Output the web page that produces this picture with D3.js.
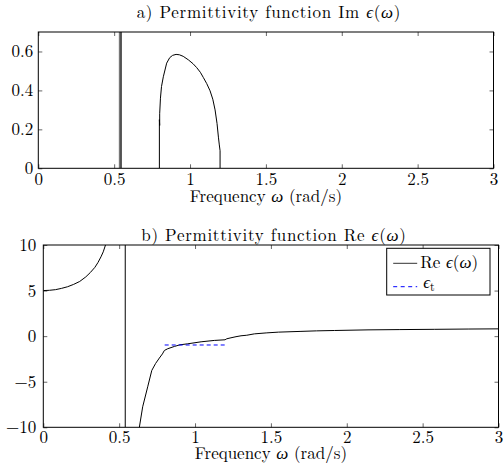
<!DOCTYPE html>
<html lang="en">
<head>
<meta charset="utf-8">
<title>Permittivity function</title>
<script src="https://d3js.org/d3.v7.min.js"></script>
<style>
  body { margin: 0; background: #fff; }
</style>
</head>
<body>
<div id="mainDiv"></div>
<script>
const width = 503
const height = 465
const fontName = 'Latin Modern Roman'
const fontSize = '17px'

// x ticks shared by both panels
const xTicks = [0, 0.5, 1, 1.5, 2, 2.5, 3]

// a) Im eps(omega)
const imYTicks = [0, 0.2, 0.4, 0.6]
const deltaOmega = [0.535, 0.545]   // resonance spike (drawn as a thick vertical line)
const imOmega = [0.798, 0.798, 0.800, 0.800, 0.805, 0.812, 0.824, 0.846, 0.866, 0.885, 0.908, 0.930, 0.955, 0.989, 1.020, 1.044, 1.068, 1.088, 1.110, 1.132, 1.150, 1.165, 1.178, 1.187, 1.193, 1.198, 1.198]
const imValues = [0.0, 0.25, 0.22, 0.28, 0.36, 0.42, 0.47, 0.54, 0.568, 0.580, 0.585, 0.583, 0.575, 0.557, 0.537, 0.517, 0.493, 0.466, 0.435, 0.398, 0.355, 0.300, 0.230, 0.160, 0.120, 0.090, 0.0]

// b) Re eps(omega)
const reYTicks = [-10, -5, 0, 5, 10]
const reOmegaLow = [0, 0.04, 0.08, 0.12, 0.16, 0.2, 0.24, 0.28, 0.31, 0.34, 0.36, 0.38, 0.395, 0.41, 0.42]
const reValuesLow = [5.0, 5.03, 5.1, 5.24, 5.42, 5.68, 6.0, 6.5, 6.98, 7.55, 8.07, 8.7, 9.25, 10.0, 10.6]
const reOmegaHigh = [0.62, 0.633, 0.655, 0.688, 0.715, 0.74, 0.765, 0.785, 0.798, 0.82, 0.864, 0.901, 0.952, 1.04, 1.127, 1.198, 1.209, 1.237, 1.27, 1.303, 1.341, 1.391, 1.473, 1.55, 1.692, 1.8, 1.92, 2.14, 2.35, 2.58, 2.8, 3.0]
const reValuesHigh = [-11, -10.0, -7.75, -5.56, -3.76, -3.0, -2.4, -1.95, -1.57, -1.38, -1.13, -0.95, -0.84, -0.62, -0.47, -0.40, -0.29, -0.18, -0.06, 0.04, 0.10, 0.25, 0.36, 0.44, 0.52, 0.58, 0.62, 0.69, 0.72, 0.75, 0.78, 0.8]
const poleOmega = 0.54
const epsTOmega = [0.8, 1.2]
const epsTValues = [-0.97, -0.97]

const svg = d3.select('#mainDiv').append('svg')
    .attr('width', width)
    .attr('height', height)

function addText(sel, x, y, parts, anchor) {
    const t = sel.append('text')
        .attr('x', x).attr('y', y)
        .attr('text-anchor', anchor || 'start')
        .style('font-family', fontName)
        .style('font-size', fontSize)
        .style('fill', '#000')
    parts.forEach(p => {
        const s = t.append('tspan').text(p.t)
        if (p.i) s.style('font-style', 'italic')
        if (p.sub) s.attr('dy', 3).style('font-size', '12px')
    })
    return t
}

function makePanel(box, yDomain, yTicks, pads, title, titleY, labelY) {
    const xScale = d3.scaleLinear().domain([0, 3]).range([box.left, box.right])
    const yScale = d3.scaleLinear().domain(yDomain).range([box.bottom, box.top])
    const tick = 4

    const axes = svg.append('g')
    axes.append('g')
        .attr('transform', `translate(0,${box.bottom})`)
        .call(d3.axisBottom(xScale).tickValues(xTicks).tickFormat(d3.format('')).tickSize(-tick).tickPadding(pads.x))
    axes.append('g')
        .attr('transform', `translate(0,${box.top})`)
        .call(d3.axisTop(xScale).tickValues(xTicks).tickFormat('').tickSize(-tick))
    axes.append('g')
        .attr('transform', `translate(${box.left},0)`)
        .call(d3.axisLeft(yScale).tickValues(yTicks).tickFormat(d3.format('')).tickSize(-tick).tickPadding(pads.y))
    axes.append('g')
        .attr('transform', `translate(${box.right},0)`)
        .call(d3.axisRight(yScale).tickValues(yTicks).tickFormat('').tickSize(-tick))
    axes.selectAll('.domain').remove()
    axes.selectAll('g').attr('font-family', fontName).attr('font-size', 17)
    axes.selectAll('.tick line').attr('stroke', '#666')
    axes.selectAll('.tick text')
        .style('font-family', fontName)
        .style('font-size', fontSize)
        .attr('fill', '#000')

    addText(svg, (box.left + box.right) / 2 + 3, titleY,
        [{ t: title }, { t: 'ϵ', i: true }, { t: '(' }, { t: 'ω', i: true }, { t: ')' }], 'middle')
        .style('letter-spacing', '0.7px')
    addText(svg, (box.left + box.right) / 2, labelY,
        [{ t: 'Frequency ' }, { t: 'ω', i: true }, { t: ' (rad/s)' }], 'middle')

    const clipId = 'clip' + titleY
    svg.append('clipPath').attr('id', clipId)
        .append('rect')
        .attr('x', box.left).attr('y', box.top)
        .attr('width', box.right - box.left).attr('height', box.bottom - box.top)

    const plot = svg.append('g').attr('clip-path', `url(#${clipId})`)
    return { xScale, yScale, plot, box }
}

function frame(p) {
    svg.append('rect')
        .attr('x', p.box.left).attr('y', p.box.top)
        .attr('width', p.box.right - p.box.left).attr('height', p.box.bottom - p.box.top)
        .attr('fill', 'none').attr('stroke', '#000').attr('stroke-width', 1)
}

// ---------- panel a ----------
const a = makePanel({ left: 38.3, right: 493.5, top: 32, bottom: 168.3 }, [0, 0.7], imYTicks,
    { x: 5, y: 5 }, 'a) Permittivity function Im ', 18, 202)

a.plot.selectAll('.spike')
    .data(deltaOmega)
    .enter()
    .append('line')
    .attr('x1', d => a.xScale(d)).attr('x2', d => a.xScale(d))
    .attr('y1', a.yScale(0)).attr('y2', a.yScale(0.7))
    .attr('stroke', (d, i) => i === 0 ? '#777' : '#000')
    .attr('stroke-width', 1.3)

const lineA = d3.line().x(d => a.xScale(d[0])).y(d => a.yScale(d[1]))
a.plot.append('path')
    .datum(d3.zip(imOmega, imValues))
    .attr('d', lineA)
    .attr('fill', 'none')
    .attr('stroke', '#000')
    .attr('stroke-width', 1)
frame(a)

// ---------- panel b ----------
const b = makePanel({ left: 43.3, right: 498.5, top: 245, bottom: 427.3 }, [-10, 10], reYTicks,
    { x: 4, y: 7 }, 'b) Permittivity function Re ', 241, 459)

const lineB = d3.line().x(d => b.xScale(d[0])).y(d => b.yScale(d[1]))
b.plot.append('path')
    .datum(d3.zip(reOmegaLow, reValuesLow))
    .attr('d', lineB)
    .attr('fill', 'none').attr('stroke', '#000').attr('stroke-width', 1)
b.plot.append('path')
    .datum(d3.zip(reOmegaHigh, reValuesHigh))
    .attr('d', lineB)
    .attr('fill', 'none').attr('stroke', '#000').attr('stroke-width', 1)
b.plot.append('line')
    .attr('x1', b.xScale(poleOmega)).attr('x2', b.xScale(poleOmega))
    .attr('y1', b.yScale(-10)).attr('y2', b.yScale(10))
    .attr('stroke', '#000').attr('stroke-width', 1)
b.plot.append('path')
    .datum(d3.zip(epsTOmega, epsTValues))
    .attr('d', lineB)
    .attr('fill', 'none').attr('stroke', '#0000ff').attr('stroke-width', 1)
    .attr('stroke-dasharray', '4,3')
frame(b)

// legend
const legend = svg.append('g').attr('transform', 'translate(386.7,248.3)')
legend.append('rect')
    .attr('width', 103.3).attr('height', 46.7)
    .attr('fill', '#fff').attr('stroke', '#000').attr('stroke-width', 1)
legend.append('line')
    .attr('x1', 6.5).attr('x2', 30.5).attr('y1', 15).attr('y2', 15)
    .attr('stroke', '#333').attr('stroke-width', 1)
legend.append('line')
    .attr('x1', 6.5).attr('x2', 30.5).attr('y1', 38.4).attr('y2', 38.4)
    .attr('stroke', '#0000ff').attr('stroke-width', 1).attr('stroke-dasharray', '4,3.5')
addText(legend, 33.5, 20, [{ t: 'Re ' }, { t: 'ϵ', i: true }, { t: '(' }, { t: 'ω', i: true }, { t: ')' }])
addText(legend, 36.5, 40, [{ t: 'ϵ', i: true }, { t: 't', sub: true }])
</script>
</body>
</html>
